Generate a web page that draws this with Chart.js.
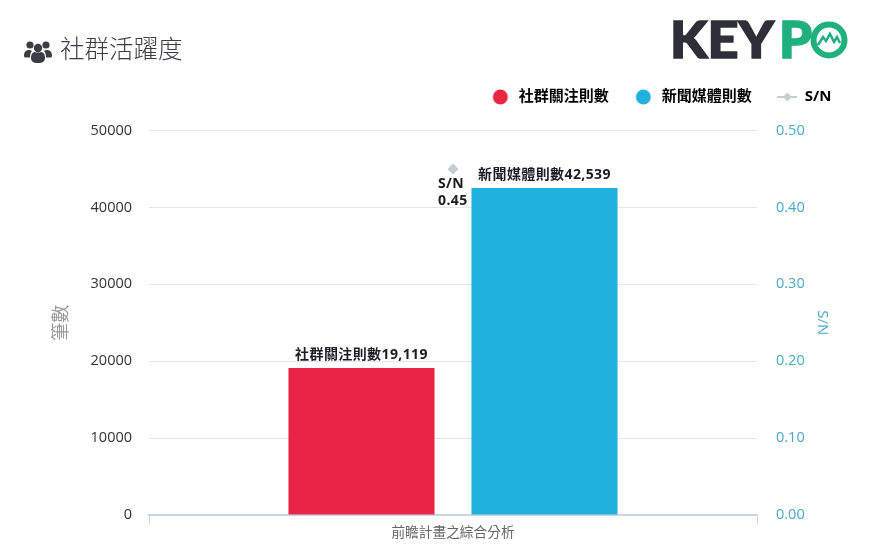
<!DOCTYPE html>
<html>
<head>
<meta charset="utf-8">
<script src="https://cdn.jsdelivr.net/npm/chart.js@4"></script>
<style>
    html, body { margin: 0; padding: 0; background: #fff; }
    #wrap { position: relative; width: 870px; height: 555px; overflow: hidden; }
    #title { position: absolute; left: 60px; top: 31px; font: 24.5px/34px 'Noto Sans CJK TC', sans-serif; font-weight: 300; color: #3c3c46; white-space: nowrap; }
    #icon { position: absolute; left: 24px; top: 39px; }
    #logo { position: absolute; left: 668px; top: 14px; }
</style>
</head>
<body>
<div id="wrap">
    <canvas id="chart" width="870" height="555"></canvas>
    <div id="title">社群活躍度</div>
    <svg id="icon" width="28" height="26" viewBox="0 0 28 26" fill="#3c3c46">
        <circle cx="6" cy="6" r="3.6"/><circle cx="22" cy="6" r="3.6"/><circle cx="14" cy="9" r="4.2"/>
        <path d="M0 17c0-4 2-6 5-6 1 0 2 .3 3 1-1.500 1.500-2 3.500-2 6.500H2c-1 0-2-.5-2-1.500z"/>
        <path d="M28 17c0-4-2-6-5-6-1 0-2 .3-3 1 1.500 1.500 2 3.500 2 6.500h4c1 0 2-.5 2-1.500z"/>
        <path d="M7 19c0-4 2-6 4-6 1 .8 5 .8 6 0 2 0 4 2 4 6 0 3-2 5-7 5s-7-2-7-5z"/>
    </svg>
    <svg id="logo" width="190" height="50" viewBox="0 0 190 50">
        <text x="2" y="44" textLength="104" lengthAdjust="spacingAndGlyphs" font-family="Lato, sans-serif" font-weight="900" font-size="51" fill="#2f2f3a" stroke="#2f2f3a" stroke-width="1.500">KEY</text>
        <text x="111" y="44" textLength="33" lengthAdjust="spacingAndGlyphs" font-family="Lato, sans-serif" font-weight="900" font-size="51" fill="#1fb07c" stroke="#1fb07c" stroke-width="1.500">P</text>
        <circle cx="161" cy="26" r="15.500" fill="#fff" stroke="#1fb07c" stroke-width="6"/>
        <path d="M150 31l5-8 3 4 4-7 4 8 3-5 3 6" fill="none" stroke="#1fb07c" stroke-width="2.500"/>
    </svg>
</div>
<script>
// Data
const categories = ['前瞻計畫之綜合分析'];
const socialName = '社群關注則數';
const newsName = '新聞媒體則數';
const ratioName = 'S/N';
const socialValues = [19119];
const newsValues = [42539];
const ratioValues = [0.45];
const leftTicks = [0, 10000, 20000, 30000, 40000, 50000];
const rightTicks = [0, 0.1, 0.2, 0.3, 0.4, 0.5];

const RED = '#ea2445';
const BLUE = '#20b1dc';
const GREY = '#c5ced1';
const TEAL = '#4ba9c8';
const NUM_FONT = "'Open Sans', 'Noto Sans CJK TC', sans-serif";

// Legend symbols
function circleSymbol(color) {
    const c = document.createElement('canvas');
    c.width = 20;
    c.height = 16;
    const ctx = c.getContext('2d');
    ctx.fillStyle = color;
    ctx.beginPath();
    ctx.arc(9, 8, 7.5, 0, Math.PI * 2);
    ctx.fill();
    return c;
}

function lineSymbol(color) {
    const c = document.createElement('canvas');
    c.width = 20;
    c.height = 16;
    const ctx = c.getContext('2d');
    ctx.strokeStyle = color;
    ctx.lineWidth = 2;
    ctx.beginPath();
    ctx.moveTo(0, 8);
    ctx.lineTo(20, 8);
    ctx.stroke();
    ctx.fillStyle = color;
    ctx.beginPath();
    ctx.moveTo(10, 3.5);
    ctx.lineTo(14.5, 8);
    ctx.lineTo(10, 12.5);
    ctx.lineTo(5.5, 8);
    ctx.fill();
    return c;
}

// Extra room under the legend so the plot starts lower
const legendGap = {
    id: 'legendGap',
    beforeLayout(chart) {
        if (chart.legend._gapAdded) return;
        const fit = chart.legend.fit;
        chart.legend.fit = function () {
            fit.call(this);
            this.height += 16;
        };
        chart.legend._gapAdded = true;
    }
};

// Text above bars and under the S/N point
const valueLabels = {
    id: 'valueLabels',
    afterDatasetsDraw(chart) {
        const ctx = chart.ctx;
        ctx.save();
        ctx.fillStyle = '#1c1c24';
        ctx.font = "bold 14px " + NUM_FONT;
        ctx.letterSpacing = '0.4px';
        ctx.textAlign = 'center';
        ctx.textBaseline = 'alphabetic';
        [0, 1].forEach(i => {
            const ds = chart.data.datasets[i];
            const bar = chart.getDatasetMeta(i).data[0];
            ctx.fillText(ds.label + ds.data[0].toLocaleString('en-US'), bar.x, bar.y - 9);
        });
        const pt = chart.getDatasetMeta(2).data[0];
        ctx.textAlign = 'left';
        ctx.fillText(ratioName, pt.x - 15, pt.y + 19);
        ctx.fillText(ratioValues[0].toFixed(2), pt.x - 15, pt.y + 36);
        ctx.restore();
    }
};

new Chart(document.getElementById('chart').getContext('2d'), {
    data: {
        labels: categories,
        datasets: [
            { type: 'bar', label: socialName, data: socialValues, backgroundColor: RED, yAxisID: 'y', order: 2, categoryPercentage: 0.602, barPercentage: 0.798 },
            { type: 'bar', label: newsName, data: newsValues, backgroundColor: BLUE, yAxisID: 'y', order: 2, categoryPercentage: 0.602, barPercentage: 0.798 },
            { type: 'line', label: ratioName, data: ratioValues, borderColor: GREY, backgroundColor: GREY, pointStyle: 'rectRot', pointRadius: 5, yAxisID: 'y1', order: 1 }
        ]
    },
    options: {
        responsive: false,
        animation: false,
        layout: { padding: { left: 40, right: 13, top: 64, bottom: 12 } },
        plugins: {
            tooltip: { enabled: false },
            legend: {
                position: 'top',
                align: 'end',
                labels: {
                    usePointStyle: true,
                    pointStyleWidth: 20,
                    padding: 25.5,
                    color: '#2a2a34',
                    font: { family: NUM_FONT, size: 15, weight: 'bold' },
                    generateLabels() {
                        return [
                            { text: socialName, pointStyle: circleSymbol(RED), datasetIndex: 0, lineWidth: 0 },
                            { text: newsName, pointStyle: circleSymbol(BLUE), datasetIndex: 1, lineWidth: 0 },
                            { text: ratioName, pointStyle: lineSymbol(GREY), datasetIndex: 2, lineWidth: 0 }
                        ];
                    }
                }
            }
        },
        scales: {
            x: {
                afterFit(scale) { scale.height = 28; },
                border: { color: '#ccd6eb', width: 2 },
                grid: { drawOnChartArea: false, color: '#ccd6eb', tickLength: 10 },
                ticks: { color: '#666', padding: 0, font: { family: NUM_FONT, size: 13.7 } }
            },
            y: {
                min: 0,
                max: 50000,
                position: 'left',
                afterFit(scale) { scale.width = 109; },
                afterBuildTicks(scale) { scale.ticks = leftTicks.map(v => ({ value: v })); },
                border: { display: false },
                grid: { color: '#e6e6e6', drawTicks: false },
                ticks: { color: '#333', padding: 17, font: { family: NUM_FONT, size: 14.5 }, callback: v => String(v) },
                title: { display: true, text: '筆數', color: '#999', font: { family: NUM_FONT, size: 18 }, padding: { top: 11, bottom: 0 } }
            },
            y1: {
                min: 0,
                max: 0.5,
                position: 'right',
                afterFit(scale) { scale.width = 100; },
                afterBuildTicks(scale) { scale.ticks = rightTicks.map(v => ({ value: v })); },
                border: { display: false },
                grid: { display: false, drawTicks: false },
                ticks: { color: TEAL, padding: 19, font: { family: NUM_FONT, size: 14.5 }, callback: v => v.toFixed(2) },
                title: { display: true, text: ratioName, color: TEAL, font: { family: NUM_FONT, size: 15 }, padding: { top: 26, bottom: 0 } }
            }
        }
    },
    plugins: [legendGap, valueLabels]
});
</script>
</body>
</html>
